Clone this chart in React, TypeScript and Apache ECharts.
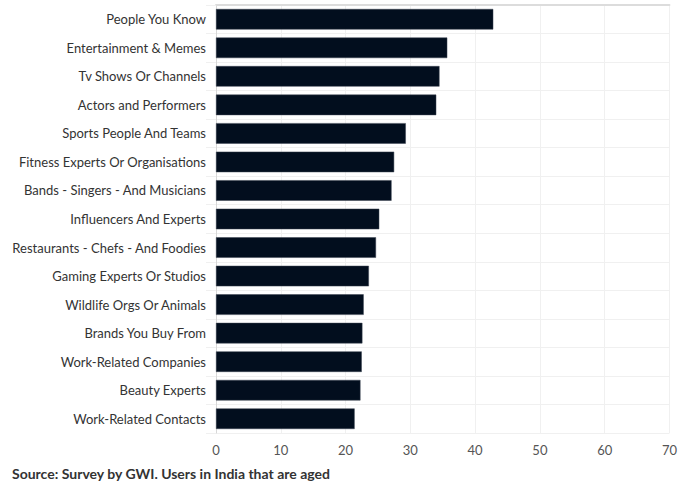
import React, { useEffect, useRef } from "react";
import * as echarts from "echarts";

const categories = [
  "People You Know",
  "Entertainment & Memes",
  "Tv Shows Or Channels",
  "Actors and Performers",
  "Sports People And Teams",
  "Fitness Experts Or Organisations",
  "Bands - Singers - And Musicians",
  "Influencers And Experts",
  "Restaurants - Chefs - And Foodies",
  "Gaming Experts Or Studios",
  "Wildlife Orgs Or Animals",
  "Brands You Buy From",
  "Work-Related Companies",
  "Beauty Experts",
  "Work-Related Contacts",
];

const values = [42.8, 35.7, 34.5, 34.0, 29.3, 27.5, 27.1, 25.2, 24.7, 23.6, 22.8, 22.6, 22.5, 22.3, 21.4];

const xTicks = { min: 0, max: 70, interval: 10 };

const sourceText = "Source: Survey by GWI. Users in India that are aged";

export default function App() {
  const ref = useRef<HTMLDivElement>(null);
  useEffect(() => {
    document.body.style.margin = "0";
    const chart = echarts.init(ref.current!, null, { renderer: "svg" });
    chart.setOption({
      animation: false,
      backgroundColor: "#ffffff",
      textStyle: { fontFamily: "Lato" },
      grid: { left: 216, right: 6, top: 5, bottom: 57, containLabel: false },
      xAxis: [
        {
          type: "value",
          min: xTicks.min,
          max: xTicks.max,
          interval: xTicks.interval,
          axisLine: { show: false },
          axisTick: { show: false },
          axisLabel: { color: "#555", fontSize: 13, margin: 10, fontFamily: "Lato" },
          splitLine: { show: true, lineStyle: { color: "#f0f0f0", width: 1 } },
        },
        {
          type: "value",
          position: "top",
          min: xTicks.min,
          max: xTicks.max,
          axisLine: { show: true, lineStyle: { color: "#dcdcdc", width: 2 } },
          axisTick: { show: false },
          axisLabel: { show: false },
          splitLine: { show: false },
        },
      ],
      yAxis: {
        type: "category",
        data: categories,
        inverse: true,
        axisLine: { show: true, lineStyle: { color: "#d8d8d8" } },
        axisTick: { show: true, length: 10, lineStyle: { color: "#f0f0f0" } },
        axisLabel: { color: "#333", fontSize: 13, margin: 10, fontFamily: "Lato" },
        splitLine: { show: true, lineStyle: { color: "#f0f0f0", width: 1 } },
      },
      series: [
        {
          type: "bar",
          xAxisIndex: 0,
          data: values,
          barWidth: "72%",
          itemStyle: { color: "#020e1e", borderColor: "#3a4350", borderWidth: 0.5 },
        },
      ],
      graphic: [
        {
          type: "text",
          left: 12,
          top: 466,
          style: {
            text: sourceText,
            fill: "#333",
            font: "bold 14px Lato",
          },
        },
      ],
    });
    return () => chart.dispose();
  }, []);
  return <div ref={ref} style={{ width: 680, height: 490, position: "absolute", left: 0, top: 0 }} />;
}
